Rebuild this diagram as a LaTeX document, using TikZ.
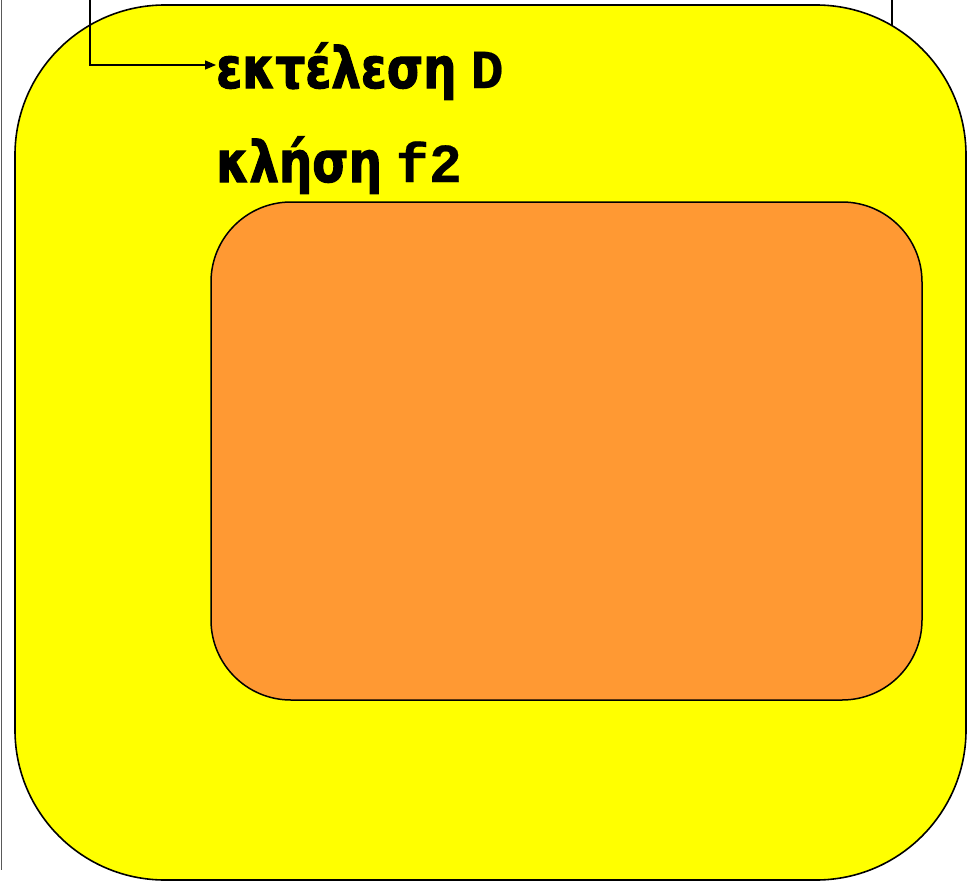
\documentclass[tikz,border=0pt]{standalone}
\usepackage{fontspec}
\setmainfont{DejaVu Sans}
\newfontfamily\lblfont[FakeStretch=0.82,FakeBold=1.8]{DejaVu Sans Bold}
\newfontfamily\codefont[FakeBold=0.4]{Liberation Mono Bold}
\usetikzlibrary{arrows.meta,calc}
\definecolor{yel}{HTML}{FFFF00}
\definecolor{orng}{HTML}{FF9933}
\tikzset{
  outerbox/.style={draw=black, line width=1.6pt, fill=yel, rounded corners=150pt},
  innerbox/.style={draw=black, line width=1.5pt, fill=orng, rounded corners=80pt},
  lbl/.style={anchor=base west, inner sep=0pt, font=\fontsize{57}{60}\lblfont},
  conn/.style={draw=black, line width=1.3pt, -{Triangle[length=11pt,width=9pt]}},
  plain/.style={draw=black, line width=1.3pt}
}
\newcommand\codetxt[1]{{\fontsize{55}{58}\codefont #1}}
\begin{document}
\begin{tikzpicture}[x=1pt,y=-1pt]
\useasboundingbox (0,0) rectangle (967,881);
\draw[gray!70!black, line width=1.3pt] (1.5,0) -- (1.5,870);
\coordinate (rt) at (892,0);
\coordinate (rb) at (892,28);
\draw[plain] (rt) -- (rb);
\path[outerbox] (15,5) rectangle (966,880);
\path[innerbox] (211,202) rectangle (922,700);
\node[lbl] (e) at (216,88) {εκτέλεση\hspace{14pt}\codetxt{D}};
\node[lbl] (k) at (216,182) {κλήση\hspace{14pt}\codetxt{f2}};
\coordinate (lt) at (90,0);
\draw[conn] (lt) |- ($(e.base west)+(0,-23)$);
\end{tikzpicture}
\end{document}
